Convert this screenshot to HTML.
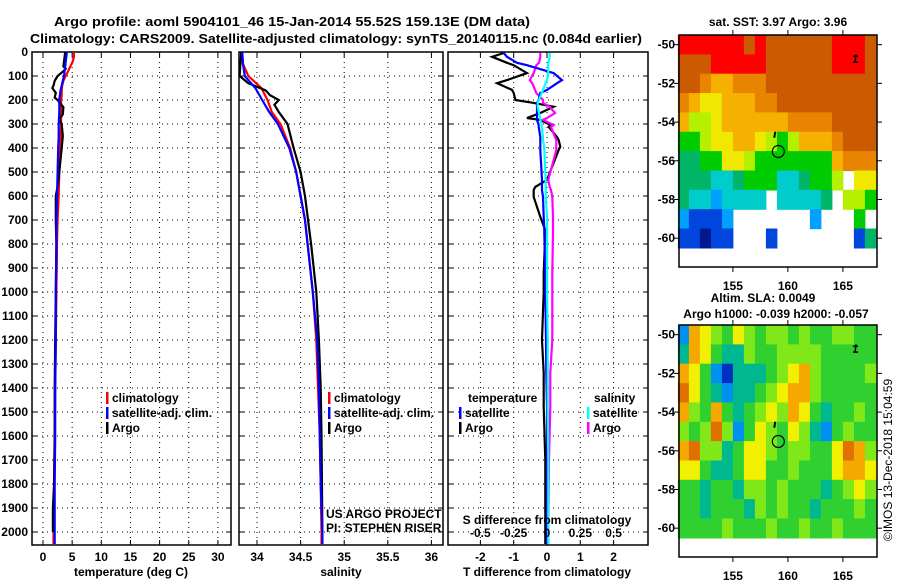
<!DOCTYPE html>
<html><head><meta charset="utf-8"><style>
body{margin:0;background:#fff}
svg{display:block;font-family:"Liberation Sans",sans-serif}
.b{font-weight:bold;font-size:12px}
</style></head><body>
<svg id="chart" width="900" height="580" viewBox="0 0 900 580" xmlns="http://www.w3.org/2000/svg">
<rect width="900" height="580" fill="#fff"/>
<text x="292" y="26" text-anchor="middle" font-weight="bold" font-size="13" textLength="476" lengthAdjust="spacingAndGlyphs">Argo profile: aoml 5904101_46 15-Jan-2014 55.52S 159.13E (DM data)</text>
<text x="336" y="43" text-anchor="middle" font-weight="bold" font-size="13" textLength="612" lengthAdjust="spacingAndGlyphs">Climatology: CARS2009. Satellite-adjusted climatology: synTS_20140115.nc (0.084d earlier)</text>
<g id="g"></g>
</svg>
<script>
// ---- profile data (depth in m) ----
const depthT = [0,20,40,60,80,100,120,140,160,180,200,250,300,350,400,500,600,700,800,1000,1200,1400,1600,1800,2000,2050];
const tempClim = [5.3,5.3,5.1,4.7,4.3,3.9,3.5,3.3,3.2,3.2,3.1,3.1,3.1,3.0,2.9,2.8,2.7,2.5,2.4,2.3,2.2,2.1,2.0,1.9,1.8,1.8];
const tempSat = [4.1,4.0,3.9,3.8,3.7,3.6,3.4,3.2,3.0,2.9,2.8,2.8,2.7,2.7,2.6,2.5,2.4,2.3,2.3,2.2,2.2,2.1,2.1,2.0,2.0,2.0];
const depthArgoT = [0,20,40,60,70,80,100,120,140,150,170,190,200,230,260,280,300,350,400,450,500,560,600,700,800,1000,1200,1400,1600,1800,1900,2000];
const tempArgo = [3.8,3.7,3.6,3.5,3.9,3.5,2.5,2.0,1.8,1.6,2.2,2.0,2.5,3.5,3.4,2.8,3.2,3.4,3.2,3.0,2.8,2.5,2.2,2.2,2.3,2.2,2.1,2.0,2.0,1.9,1.7,1.7];
const depthS = [0,50,100,150,200,250,300,400,500,600,700,800,1000,1200,1400,1600,1800,2000,2050];
const salClim = [33.83,33.84,33.90,34.05,34.12,34.17,34.27,34.38,34.45,34.50,34.55,34.58,34.64,34.68,34.70,34.72,34.73,34.74,34.74];
const salSat = [33.83,33.84,33.86,33.98,34.06,34.14,34.24,34.37,34.45,34.50,34.55,34.58,34.64,34.69,34.71,34.72,34.73,34.75,34.75];
const depthArgoS = [0,50,100,130,160,180,200,220,250,300,400,500,600,800,1000,1200,1400,1600,2000];
const salArgo = [33.82,33.81,33.80,33.90,34.10,34.15,34.25,34.20,34.25,34.35,34.42,34.50,34.55,34.62,34.68,34.71,34.73,34.74,34.75];
// ---- difference panel ----
const depthD = [4,20,45,55,88,117,130,158,171,200,212,228,254,275,283,304,312,354,367,395,408,533,562,575,604,687,742,754,921,1000,1200,1337,1479,1700,2000,2050];
const tDiffSat = [-1.3,-1.2,-0.9,-0.6,0.2,0.45,0.3,0.0,-0.2,-0.25,-0.3,-0.3,-0.3,-0.3,-0.3,-0.25,-0.25,-0.2,-0.2,-0.2,-0.2,-0.15,-0.15,-0.15,-0.12,-0.1,-0.08,-0.08,-0.05,-0.05,-0.03,-0.02,0,0,0,0];
const tDiffArgo = [-1.3,-1.65,-1.2,-1.0,-0.6,-1.2,-1.5,-1.05,-1.0,-0.95,-0.4,0.2,-0.2,-0.6,-0.2,0.1,0.05,0.3,0.35,0.4,0.35,0.0,-0.35,-0.4,-0.4,-0.2,-0.05,-0.05,-0.1,-0.1,-0.15,-0.1,-0.1,-0.05,-0.05,-0.05];
const sDiffSat = [0.02,0.02,0.01,0.01,0.01,0.0,-0.01,-0.03,-0.04,-0.06,-0.07,-0.07,-0.06,-0.05,-0.05,-0.04,-0.04,-0.03,-0.03,-0.02,-0.02,-0.01,-0.01,-0.01,-0.01,0,0,0,0,0,0.005,0.005,0.005,0.01,0.01,0.01];
const sDiffArgo = [-0.05,-0.05,-0.06,-0.08,-0.1,-0.13,-0.11,-0.09,-0.08,-0.03,-0.03,0.02,0.06,0.0,-0.03,0.05,0.03,0.06,0.07,0.07,0.07,0.01,0.02,0.03,0.04,0.045,0.045,0.045,0.04,0.04,0.04,0.025,0.025,0.015,0.01,0.01];
// ---- tick labels ----
const depthTicks = [0,100,200,300,400,500,600,700,800,900,1000,1100,1200,1300,1400,1500,1600,1700,1800,1900,2000];
const tempTicks = [0,5,10,15,20,25,30];
const salTicks = [34,34.5,35,35.5,36];
const tDiffTicks = [-2,-1,0,1,2];
const sDiffTicks = [-0.5,-0.25,0,0.25,0.5];
const sDiffTickLabels = ["-0.5","-0.25","0","0.25","0.5"];
const latTicks = [-50,-52,-54,-56,-58,-60];
const lonTicks = [155,160,165];
// ---- map grids (rows lat -50..-60, cols lon 150.5..167.5) ----
const mapLats = [-50,-51,-52,-53,-54,-55,-56,-57,-58,-59,-60];
const mapLons = [150.5,151.5,152.5,153.5,154.5,155.5,156.5,157.5,158.5,159.5,160.5,161.5,162.5,163.5,164.5,165.5,166.5,167.5];
const sstGrid = [
[9,9,9,9,9,9,8,9,8,8,8,8,8,8,9,9,9,8],
[8,8,8,9,9,9,9,9,8,8,8,8,8,8,9,9,9,8],
[8,8,7,6,6,7,7,7,8,8,8,8,8,8,8,8,8,8],
[7,6,5,5,6,6,6,7,7,8,8,8,8,8,8,8,8,8],
[6,4,4,5,6,6,6,6,6,6,7,7,7,7,8,8,8,8],
[3,3,4,5,5,6,6,5,4,3,4,6,6,6,7,8,8,8],
[2,2,3,3,5,5,4,3,3,3,3,3,3,3,6,7,7,7],
[2,2,2,1,1,2,3,3,3,1,1,2,3,3,4,null,5,5],
[2,1,1,0,1,1,1,1,null,1,1,1,1,2,null,4,4,3],
[0,-1,-1,-1,0,null,null,null,null,null,null,null,0,null,null,null,3,null],
[-1,-1,-2,-1,-1,null,null,null,-1,null,null,null,null,null,null,null,-1,2]];
const slaGrid = [
[-2,3,2,1,0,2,1,0,1,1,0,1,0,0,1,1,0,0],
[-1,3,2,0,-1,-1,1,0,0,1,1,1,1,0,0,0,0,0],
[3,2,0,-2,-3,-1,-1,-1,0,1,2,3,1,0,0,0,0,1],
[4,2,0,-1,-2,-1,-1,0,1,2,3,3,1,0,0,0,0,0],
[3,1,0,3,0,-1,0,1,2,1,3,2,0,-1,0,0,1,0],
[1,0,1,4,1,-2,0,2,1,0,2,1,-1,-2,0,1,0,0],
[3,4,1,1,-1,0,2,2,1,0,1,1,0,0,2,4,3,1],
[2,2,0,-1,-1,0,2,2,0,0,1,0,0,0,2,3,3,2],
[0,0,-1,0,0,-1,1,1,0,1,0,0,0,-1,0,1,2,1],
[0,0,-1,0,0,0,-1,1,0,1,0,0,-1,0,0,0,1,0],
[0,0,0,0,1,0,0,0,1,0,0,1,0,0,1,0,0,0]];

const NS="http://www.w3.org/2000/svg";
const G=document.getElementById('g');
function mk(tag,attrs,parent){const e=document.createElementNS(NS,tag);for(const k in attrs)e.setAttribute(k,attrs[k]);(parent||G).appendChild(e);return e;}
function txt(s,x,y,anchor,cls,parent){const e=mk('text',{x:x,y:y,'text-anchor':anchor||'middle','class':cls||'b'},parent);e.textContent=s;return e;}
const TOP=52,BOT=545;
const yD=d=>TOP+0.24*d;
const x1=v=>43+5.83*v, x2=v=>257+87.2*(v-34), x3=v=>547+33.3*v, x3s=v=>547+133.3*v;
const panels=[{l:32,r:231,fx:x1,ticks:tempTicks,labs:tempTicks.map(String),name:'temperature-panel'},
 {l:239,r:443,fx:x2,ticks:salTicks,labs:salTicks.map(String),name:'salinity-panel'},
 {l:448,r:648,fx:x3,ticks:tDiffTicks,labs:tDiffTicks.map(String),name:'difference-panel'}];
panels.forEach((p,pi)=>{
  const g=mk('g',{});
  
  
  depthTicks.forEach(d=>{if(d>0){const ln=mk('line',{x1:p.l,x2:p.r,y1:yD(d),y2:yD(d),stroke:'#000','stroke-width':1,'stroke-dasharray':'1,4'},g);}
    mk('line',{x1:p.l,x2:p.l+5,y1:yD(d),y2:yD(d),stroke:'#000'},g);mk('line',{x1:p.r-5,x2:p.r,y1:yD(d),y2:yD(d),stroke:'#000'},g);
    if(pi===0){const t=txt(String(d),28,yD(d)+4,'end','b',g);}});
  p.ticks.forEach((v,i)=>{const x=p.fx(v);
    const ln=mk('line',{x1:x,x2:x,y1:TOP,y2:BOT,stroke:'#000','stroke-dasharray':'1,4'},g);
    mk('line',{x1:x,x2:x,y1:TOP,y2:TOP+5,stroke:'#000'},g);mk('line',{x1:x,x2:x,y1:BOT-5,y2:BOT,stroke:'#000'},g);
    const t=txt(p.labs[i],x,561,'middle','b',g);});
  const fr=mk('rect',{x:p.l,y:TOP,width:p.r-p.l,height:BOT-TOP,fill:'none',stroke:'#000','stroke-width':1.5},g);
  
});
function line(ds,vs,fx,col,name){const pts=ds.map((d,i)=>fx(vs[i]).toFixed(1)+','+yD(d).toFixed(1)).join(' ');
  const e=mk('polyline',{points:pts,fill:'none',stroke:col,'stroke-width':2.2,'stroke-linejoin':'miter'});
  }
line(depthT,tempClim,x1,'#f00','temperature-climatology-line');
line(depthArgoT,tempArgo,x1,'#000','temperature-argo-line');
line(depthT,tempSat,x1,'#00f','temperature-satellite-line');
line(depthS,salClim,x2,'#f00','salinity-climatology-line');
line(depthArgoS,salArgo,x2,'#000','salinity-argo-line');
line(depthS,salSat,x2,'#00f','salinity-satellite-line');
line(depthD,tDiffArgo,x3,'#000','t-diff-argo-line');
line(depthD,sDiffArgo,x3s,'#f0f','s-diff-argo-line');
line(depthD,tDiffSat,x3,'#00f','t-diff-satellite-line');
line(depthD,sDiffSat,x3s,'#0ff','s-diff-satellite-line');
// axis titles
[['temperature (deg C)',131,'temperature-axis-title'],['salinity',341,'salinity-axis-title'],['T difference from climatology',547,'t-diff-axis-title']].forEach(a=>{const t=txt(a[0],a[1],576);});
const st=txt('S difference from climatology',547,524);
sDiffTicks.forEach((v,i)=>{const t=txt(sDiffTickLabels[i],x3s(v),537);});
// legends
function leg(bx,y,col,label){const g=mk('g',{});
  mk('rect',{x:bx-1,y:y-6,width:2.5,height:12,fill:col},g);txt(label,bx+5,y+4,'start','b',g);}
[[107,'#f00','climatology',398],[107,'#00f','satellite-adj. clim.',413],[107,'#000','Argo',428],
 [329,'#f00','climatology',398],[329,'#00f','satellite-adj. clim.',413],[329,'#000','Argo',428],
 [460,'#00f','satellite',413],[460,'#000','Argo',428],[588,'#0ff','satellite',413],[588,'#f0f','Argo',428]].forEach(e=>leg(e[0],e[3],e[1],e[2]));
let lt=txt('temperature',468,402,'start');
lt=txt('salinity',594,402,'start');
let cr=txt('US ARGO PROJECT',326,518,'start','');cr.setAttribute('font-size','12');
cr=txt('PI: STEPHEN RISER',326,532,'start','');cr.setAttribute('font-size','12');
// maps
const sstCol={'9':'#ff0000','8':'#cc5a00','7':'#e88400','6':'#f5b000','5':'#f0e800','4':'#b4f000','3':'#00cc00','2':'#00b468','1':'#00cccc','0':'#00a0ff','-1':'#0046dc','-2':'#001890'};
const slaCol={'4':'#e07000','3':'#f5a800','2':'#f0f000','1':'#80e818','0':'#30d030','-1':'#00b890','-2':'#0090f0','-3':'#0030c0'};
function drawMap(top,grid,cols,name,titleLines){
  const L=679,R=877,lonX=v=>L+(v-150.1)*11,latY=v=>top+(-49.5-v)*19.35;
  const g=mk('g',{});
  grid.forEach((row,ri)=>row.forEach((v,ci)=>{if(v===null)return;
    const c=mk('rect',{x:lonX(mapLons[ci]-0.5).toFixed(1),y:latY(mapLats[ri]+0.5).toFixed(1),width:11.5,height:20,fill:cols[String(v)]},g);
    }));
  const bottom=top+232;
  mk('rect',{x:L,y:bottom,width:R-L,height:2,fill:'#fff'},g);
  latTicks.forEach(v=>{const y=latY(v);mk('line',{x1:L,x2:L-5,y1:y,y2:y,stroke:'#000'},g);mk('line',{x1:R,x2:R+5,y1:y,y2:y,stroke:'#000'},g);
    const t=txt(String(v),675,y+4,'end','b',g);});
  lonTicks.forEach(v=>{const x=lonX(v);mk('line',{x1:x,x2:x,y1:top,y2:top-5,stroke:'#000'},g);mk('line',{x1:x,x2:x,y1:bottom,y2:bottom+5,stroke:'#000'},g);
    const t=txt(String(v),x,bottom+23,'middle','b',g);});
  mk('rect',{x:L,y:top,width:R-L,height:bottom-top,fill:'none',stroke:'#000','stroke-width':1.5},g);
  const c=mk('circle',{cx:lonX(159.13),cy:latY(-55.52),r:6,fill:'none',stroke:'#000','stroke-width':1.2},g);
  
  mk('path',{d:`M${lonX(158.85)} ${latY(-54.5)} l-1 6`,stroke:'#000','stroke-width':2},g);
  mk('path',{d:`M${lonX(166.2)} ${latY(-50.5)} l-1 7 M${lonX(166.2)-3} ${latY(-50.6)} h5 M${lonX(166.2)-3} ${latY(-50.9)} h5`,stroke:'#000','stroke-width':1.5},g);
  titleLines.forEach((tl,i)=>{const t=txt(tl[0],tl[1],tl[2],'middle','b',g);t.setAttribute('font-size','12.5');});
}
drawMap(35,sstGrid,sstCol,'sst-map',[['sat. SST: 3.97 Argo: 3.96',778,26]]);
drawMap(325,slaGrid,slaCol,'sla-map',[['Altim. SLA: 0.0049',763,302],['Argo h1000: -0.039 h2000: -0.057',776,318]]);
const im=mk('text',{x:0,y:0,transform:'translate(892,460) rotate(-90)','text-anchor':'middle','font-size':'12'});
im.textContent='©IMOS 13-Dec-2018 15:04:59';


</script>
</body></html>
